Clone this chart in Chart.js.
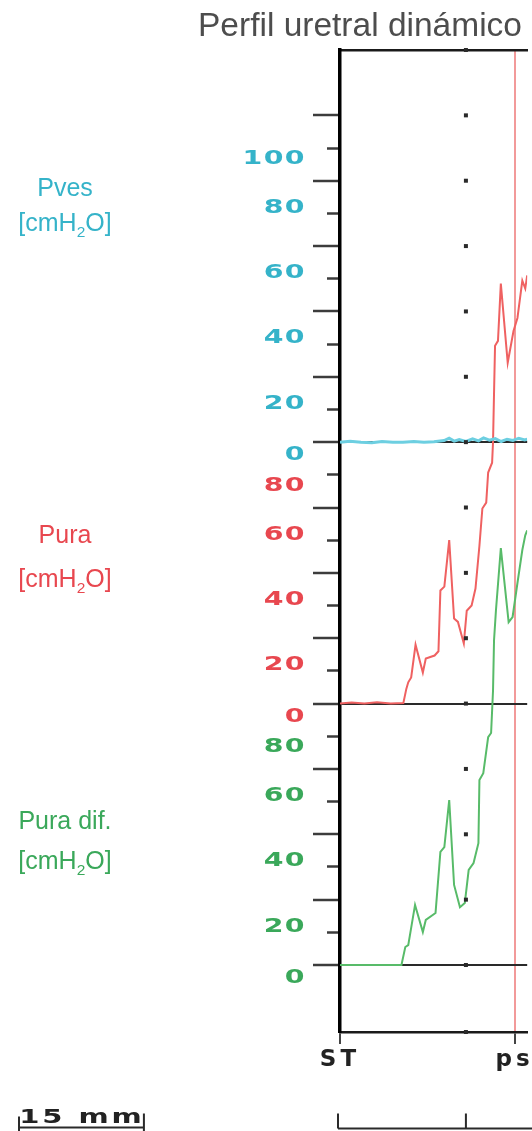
<!DOCTYPE html>
<html><head><meta charset="utf-8">
<script src="https://cdn.jsdelivr.net/npm/chart.js@4"></script>
<style>
html,body{margin:0;padding:0;background:#fff;}
#wrap{position:relative;width:532px;height:1131px;overflow:hidden;background:#fff;}
#cbox{position:absolute;left:0;top:0;width:532px;height:1131px;}
.t{position:absolute;font-family:"Liberation Sans",Arial,sans-serif;white-space:nowrap;line-height:1;}
#title{left:198px;top:8px;font-size:33.5px;color:#4d4d4d;}
.ch{width:130px;left:0;text-align:center;font-size:25px;}
sub{font-size:0.62em;vertical-align:-0.38em;line-height:0;}
</style></head>
<body><div id="wrap">
<div id="cbox"><canvas id="c"></canvas></div>
<div class="t" id="title">Perfil uretral dinámico</div>
<div class="t ch" style="top:175px;color:#35b3c9">Pves</div>
<div class="t ch" style="top:210px;color:#35b3c9">[cmH<sub>2</sub>O]</div>
<div class="t ch" style="top:522px;color:#e8474f">Pura</div>
<div class="t ch" style="top:566px;color:#e8474f">[cmH<sub>2</sub>O]</div>
<div class="t ch" style="top:808px;color:#3aa85a">Pura dif.</div>
<div class="t ch" style="top:848px;color:#3aa85a">[cmH<sub>2</sub>O]</div>
</div>
<script>
// ---- data (position along urethra in mm, pressure in cmH2O) ----
const pvesPos = [0, 1.2, 2.5, 3.8, 5.0, 6.3, 7.5, 8.8, 10.0, 11.2, 12.4, 13.0, 13.6, 14.2, 15.0, 15.8, 16.5, 17.1, 17.8, 18.5, 19.2, 19.9, 20.6, 21.3, 22.0, 22.3];
const pvesVal = [0, 0.3, 0, -0.2, 0.2, 0, 0, 0.2, 0, 0.1, 0.5, 1.2, 0.3, 0.8, 0.2, 1.0, 0.4, 1.3, 0.6, 1.1, 0.2, 0.9, 0.5, 1.2, 0.7, 0.9];

const puraPos = [0, 1.39, 2.90, 4.41, 6.04, 7.55, 7.90, 8.13, 8.48, 9.00, 9.87, 10.22, 11.27, 11.73, 11.96, 12.43, 13.01, 13.59, 14.05, 14.75, 15.10, 15.68, 16.14, 16.61, 16.96, 17.42, 17.65, 18.12, 18.23, 18.35, 18.47, 18.82, 19.16, 19.98, 20.67, 21.14, 21.72, 22.07, 22.30];
const puraVal = [0, 0.3, 0, 0.4, 0, 0.2, 4.5, 6.5, 8, 18, 9.5, 13.8, 14.7, 16, 34.6, 35.8, 50, 26, 25, 18.4, 28.4, 30, 35.2, 48.3, 59.7, 61.5, 70.7, 73.7, 80, 95, 109.5, 111, 128.5, 104.3, 114, 118, 129.4, 127, 131];

const difPos = [0, 6.39, 7.32, 7.78, 8.13, 8.94, 9.87, 10.22, 11.38, 11.96, 12.43, 13.01, 13.59, 14.29, 14.87, 15.33, 15.91, 16.49, 16.61, 17.07, 17.65, 18.00, 18.23, 18.35, 18.58, 19.16, 20.09, 20.56, 21.14, 21.72, 22.07, 22.30];
const difVal = [0, 0, 0, 5.5, 6.1, 18.4, 10.1, 13.8, 15.9, 34.6, 36.1, 50.5, 24.5, 17.7, 19.0, 29.1, 31.2, 37.3, 56.6, 58.7, 69.7, 71, 84, 99.4, 108.6, 127.6, 104.9, 106.5, 116.9, 127, 131.5, 133];

const pvesTicks = [0, 20, 40, 60, 80, 100];
const puraTicks = [0, 20, 40, 60, 80];
const difTicks = [0, 20, 40, 60, 80];
const xTickPos = [0, 20.8];
const xTickLabels = ['ST', 'ps'];
const scaleBarMM = 15;

// ---- layout of the stacked channels ----
const COLORS = {pves: '#35b3c9', pura: '#e8474f', dif: '#3aa85a'};
const OFF = {pves: 160, pura: 80, dif: 0};
const CMIN = -20.5, CMAX = 280;
const X_MAX = 22.3;
const Y_LABEL_STRETCH = 1.42;
const channels = [[difTicks, OFF.dif, COLORS.dif], [puraTicks, OFF.pura, COLORS.pura], [pvesTicks, OFF.pves, COLORS.pves]];
function nudge(v, arr) {
  if (v === arr[0]) return 4;
  if (v === arr[arr.length - 1]) return 13.3;
  return 8.2;
}
const longTicks = [], shortTicks = [], labelItems = [];
channels.forEach(([arr, off, col]) => {
  arr.forEach((v, i) => {
    if (!longTicks.includes(off + v)) longTicks.push(off + v);
    if (i < arr.length - 1) shortTicks.push(off + v + (arr[i + 1] - v) / 2);
    labelItems.push({value: off + v - nudge(v, arr), text: String(v), color: col});
  });
});
const baseLines = [OFF.dif, OFF.pura, OFF.pves];
const NUM_FONT = {family: 'DejaVu Sans', weight: 'bold', size: 20};
const pairs = (xs, ys) => xs.map((x, i) => ({x: x, y: ys[i]}));
const hidden = (off) => ({type: 'linear', display: false, min: CMIN - off, max: CMAX - off});

const deco = {
  id: 'deco',
  beforeDraw(chart) {
    chart.ctx.letterSpacing = '4px';
    const s = chart.scales.yLab;
    if (s && !s._stretched) {
      const orig = s.drawLabels;
      s.drawLabels = function (area) {
        const ctx = this.ctx;
        const ax = this.right - this.options.ticks.padding;
        ctx.save();
        ctx.letterSpacing = '1px';
        ctx.translate(ax, 0); ctx.scale(Y_LABEL_STRETCH, 1); ctx.translate(-ax, 0);
        orig.call(this, area);
        ctx.restore();
      };
      s._stretched = true;
    }
  },
  afterDraw(chart) {
    const {ctx, chartArea, scales} = chart;
    const xs = scales.x, yl = scales.yLong;
    ctx.save();
    ctx.letterSpacing = '0px';
    const xd = xs.getPixelForValue(scaleBarMM);
    ctx.fillStyle = '#2a2a2a';
    longTicks.map(v => yl.getPixelForValue(v)).concat([chartArea.top, chartArea.bottom])
      .forEach(y => ctx.fillRect(xd - 2, y - 2, 4, 4));
    const x0 = xs.getPixelForValue(0), x15 = xs.getPixelForValue(scaleBarMM);
    const ry = 1128.5;
    ctx.strokeStyle = '#2a2a2a'; ctx.lineWidth = 2;
    ctx.beginPath();
    ctx.moveTo(x0 - 2, ry); ctx.lineTo(chart.width, ry);
    ctx.moveTo(x0 - 2, ry); ctx.lineTo(x0 - 2, ry - 15);
    ctx.moveTo(x15, ry); ctx.lineTo(x15, ry - 15);
    ctx.stroke();
    const bw = x15 - x0, bx = 18;
    ctx.beginPath();
    ctx.moveTo(bx, ry - 1); ctx.lineTo(bx + bw, ry - 1);
    ctx.moveTo(bx + 1, ry - 12); ctx.lineTo(bx + 1, ry + 3);
    ctx.moveTo(bx + bw, ry - 15); ctx.lineTo(bx + bw, ry + 3);
    ctx.stroke();
    ctx.letterSpacing = '2px';
    ctx.font = 'bold 20px "DejaVu Sans"';
    ctx.fillStyle = '#222';
    ctx.textAlign = 'center'; ctx.textBaseline = 'alphabetic';
    ctx.translate(bx + bw / 2 + 1, 1123);
    ctx.scale(1.45, 1);
    ctx.fillText(scaleBarMM + ' mm', 0, 0);
    ctx.restore();
    ctx.letterSpacing = '0px';
  }
};

new Chart(document.getElementById('c'), {
  type: 'line',
  data: {
    datasets: [
      {label: 'Pves', data: pairs(pvesPos, pvesVal), yAxisID: 'yPves', borderColor: '#6dcfe1', borderWidth: 3},
      {label: 'Pura', data: pairs(puraPos, puraVal), yAxisID: 'yPura', borderColor: '#ef6161', borderWidth: 2},
      {label: 'Pura dif.', data: pairs(difPos, difVal), yAxisID: 'yDif', borderColor: '#58bb69', borderWidth: 2}
    ]
  },
  options: {
    responsive: true, maintainAspectRatio: false, animation: false,
    layout: {padding: {top: 50, left: 0, right: 0, bottom: 0}, autoPadding: false},
    elements: {point: {radius: 0}, line: {tension: 0}},
    plugins: {legend: {display: false}, tooltip: {enabled: false}, title: {display: false}},
    scales: {
      x: {
        type: 'linear', position: 'bottom', min: 0, max: X_MAX,
        afterBuildTicks: s => { s.ticks = xTickPos.map(v => ({value: v})); },
        afterFit: s => { s.height = 99; },
        ticks: {autoSkip: false, maxRotation: 0, padding: 2, color: '#222', font: {family: 'DejaVu Sans', weight: 'bold', size: 23},
          callback: (v, i) => xTickLabels[i]},
        grid: {drawOnChartArea: true, lineWidth: 2,
          color: c => (c.tick && c.tick.value === xTickPos[1]) ? '#f29a9a' : 'rgba(0,0,0,0)',
          tickColor: '#444', tickLength: 12, tickWidth: 2},
        border: {display: true, color: '#1a1a1a', width: 2.5}
      },
      xTop: {
        type: 'linear', position: 'top', min: 0, max: X_MAX,
        afterFit: s => { s.height = 0; },
        ticks: {display: false},
        grid: {drawOnChartArea: false, drawTicks: false},
        border: {display: true, color: '#1a1a1a', width: 2.5}
      },
      yLab: {
        type: 'linear', position: 'left', weight: 10, min: CMIN, max: CMAX,
        afterBuildTicks: s => { s.ticks = labelItems.map(it => ({value: it.value})); },
        afterFit: s => { s.width = 340; },
        grid: {display: false, drawTicks: false, drawOnChartArea: false},
        border: {display: false},
        ticks: {autoSkip: false, padding: 34, font: NUM_FONT,
          color: c => labelItems[c.index] ? labelItems[c.index].color : '#000',
          callback: (v, i) => labelItems[i].text}
      },
      yLong: {
        type: 'linear', position: 'left', weight: 5, min: CMIN, max: CMAX,
        afterBuildTicks: s => { s.ticks = longTicks.map(v => ({value: v})); },
        afterFit: s => { s.width = 0; },
        ticks: {display: false},
        grid: {drawOnChartArea: true, lineWidth: 2,
          color: c => (c.tick && baseLines.includes(c.tick.value)) ? '#2a2a2a' : 'rgba(0,0,0,0)',
          tickLength: 27, tickWidth: 2.5, tickColor: '#3c3c3c'},
        border: {display: true, color: '#000', width: 3.5}
      },
      yShort: {
        type: 'linear', position: 'left', weight: 4, min: CMIN, max: CMAX,
        afterBuildTicks: s => { s.ticks = shortTicks.map(v => ({value: v})); },
        afterFit: s => { s.width = 0; },
        ticks: {display: false},
        grid: {drawOnChartArea: false, tickLength: 13, tickWidth: 2.5, tickColor: '#3c3c3c'},
        border: {display: false}
      },
      yPves: hidden(OFF.pves),
      yPura: hidden(OFF.pura),
      yDif: hidden(OFF.dif)
    }
  },
  plugins: [deco]
});
</script>
</body></html>
